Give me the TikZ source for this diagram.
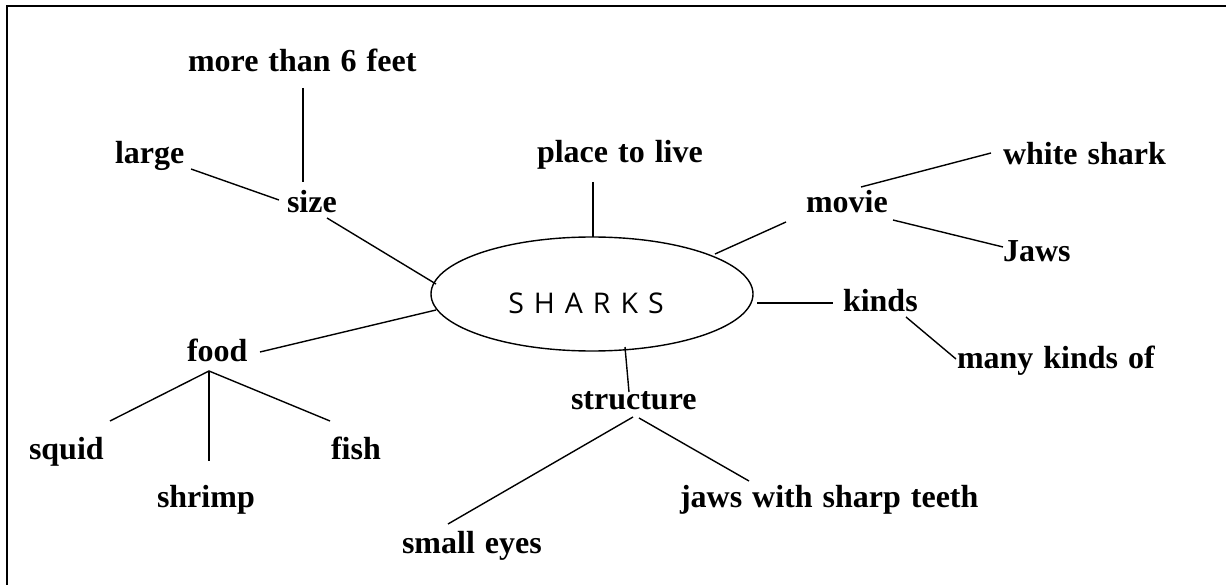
\documentclass[tikz,border=0pt]{standalone}
\usepackage{fontspec}
\setmainfont{Liberation Serif}
\newfontfamily\sharkfont{Open Sans}
\usetikzlibrary{shapes.geometric}
% bold serif labels with slightly wider word gaps
\newcommand\labelfont{\fontsize{32}{36}\selectfont\bfseries\spaceskip=10pt plus 1pt\relax}

\begin{document}
\begin{tikzpicture}[x=1pt,y=-1pt,
    word/.style={anchor=base west,inner sep=0pt,outer sep=0pt,
      font=\labelfont},
    link/.style={line width=1.4pt},
    hub/.style={ellipse,draw,line width=1.4pt,minimum width=322pt,
      minimum height=114pt,inner sep=0pt,outer sep=0pt}]
  \useasboundingbox (0,0) rectangle (1226,585);
  % outer frame (top and left edges)
  \draw[line width=2pt] (7,585) -- (7,6) -- (1226,6);

  % central topic
  \node[hub] (shark) at (592,294) {};
  \node[anchor=base,inner sep=0pt] (sharktxt) at (586,313)
    {\sharkfont\fontsize{28.5}{32}\selectfont S\hspace{10pt}H\hspace{10pt}A\hspace{10pt}R\hspace{10pt}K\hspace{10pt}S};

  % labels
  \node[word] (feet)   at (188,72)  {more than 6 feet};
  \node[word] (large)  at (115,164) {large};
  \node[word] (size)   at (287,213) {size};
  \node[word] (place)  at (537,163) {place to live};
  \node[word] (white)  at (1003,165) {white shark};
  \node[word] (movie)  at (806,213) {movie};
  \node[word] (jaws)   at (1003,262) {Jaws};
  \node[word] (kinds)  at (843,312) {kinds};
  \node[word] (many)   at (957,368) {many kinds of};
  \node[word] (food)   at (187,361) {food};
  \node[word] (struct) at (571,409) {structure};
  \node[word] (squid)  at (29,459)  {squid};
  \node[word] (fish)   at (331,459) {fish};
  \node[word] (shrimp) at (157,507) {shrimp};
  \node[word] (teeth)  at (680,507) {jaws with sharp teeth};
  \node[word] (eyes)   at (402,553) {small eyes};

  % connector end points
  \coordinate (feet-s)    at (303,88);
  \coordinate (size-n)    at (303,182);
  \coordinate (large-e)   at (191,169);
  \coordinate (size-w)    at (279,200);
  \coordinate (size-se)   at (327,218);
  \coordinate (shark-nw)  at (436,284);
  \coordinate (place-s)   at (593,182);
  \coordinate (shark-n)   at (593,237);
  \coordinate (movie-sw)  at (786,222);
  \coordinate (shark-ne)  at (715,254);
  \coordinate (movie-ne)  at (861,187);
  \coordinate (white-w)   at (991,153);
  \coordinate (movie-se)  at (893,220);
  \coordinate (jaws-w)    at (1003,247);
  \coordinate (shark-e)   at (757,303);
  \coordinate (kinds-w)   at (833,303);
  \coordinate (kinds-se)  at (906,317);
  \coordinate (many-w)    at (956,359);
  \coordinate (shark-w)   at (436,310);
  \coordinate (food-e)    at (260,352);
  \coordinate (food-s)    at (209,371);
  \coordinate (squid-ne)  at (110,421);
  \coordinate (shrimp-n)  at (209,461);
  \coordinate (fish-nw)   at (330,421);
  \coordinate (shark-s)   at (625,347);
  \coordinate (struct-n)  at (629,392);
  \coordinate (struct-sw) at (633,417);
  \coordinate (eyes-ne)   at (448,524);
  \coordinate (struct-se) at (639,418);
  \coordinate (teeth-nw)  at (749,481);

  % connectors
  \draw[link] (feet-s) -- (size-n);
  \draw[link] (large-e) -- (size-w);
  \draw[link] (size-se) -- (shark-nw);
  \draw[link] (place-s) -- (shark-n);
  \draw[link] (movie-sw) -- (shark-ne);
  \draw[link] (movie-ne) -- (white-w);
  \draw[link] (movie-se) -- (jaws-w);
  \draw[link] (shark-e) -- (kinds-w);
  \draw[link] (kinds-se) -- (many-w);
  \draw[link] (shark-w) -- (food-e);
  \draw[link] (squid-ne) -- (food-s) -- (fish-nw);
  \draw[link] (food-s) -- (shrimp-n);
  \draw[link] (shark-s) -- (struct-n);
  \draw[link] (struct-sw) -- (eyes-ne);
  \draw[link] (struct-se) -- (teeth-nw);
\end{tikzpicture}
\end{document}
